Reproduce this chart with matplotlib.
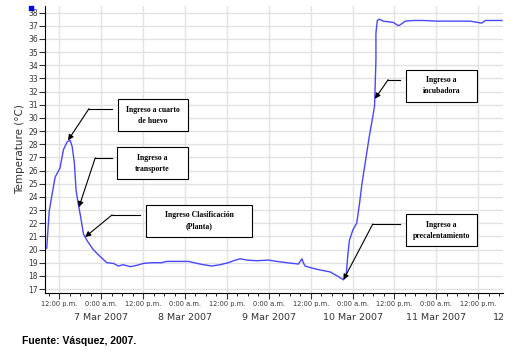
import numpy as np
import matplotlib
matplotlib.use("Agg")
from matplotlib import pyplot as plt
from matplotlib.ticker import MultipleLocator, FixedLocator

# hours since 12:00 p.m. 7 Mar 2007
hours = [-3.6, -2.9, -2.2, -1.2, -0.6, 0.2, 1.2, 2.3, 3.1, 3.7, 4.3, 4.8, 5.4, 6.1,
         6.9, 7.9, 9.7, 11.2, 13.6, 15.5, 16.9, 18.3, 20.3, 22.2, 24.1, 26.5, 29.3,
         30.8, 33.6, 37.0, 39.4, 41.3, 43.7, 46.1, 48.4, 49.9, 51.8, 53.7, 56.6,
         59.9, 62.3, 65.2, 68.5, 69.5, 69.9, 70.4, 72.3, 74.7, 77.6, 79.9, 81.4,
         82.2, 82.6, 83.1, 84.1, 85.2, 86.0, 86.7, 88.8, 89.8, 90.3, 90.7, 90.7,
         91.1, 91.7, 92.8, 95.7, 97.1, 98.1, 99.1, 101.4, 104.3, 108.1, 112.0,
         117.7, 121.0, 122.0, 126.8]
temps = [20.1, 22.9, 24.0, 25.5, 25.8, 26.2, 27.6, 28.2, 28.3, 27.8, 26.6, 24.5, 23.5,
         22.5, 21.2, 20.7, 20.0, 19.6, 19.0, 18.95, 18.75, 18.85, 18.7, 18.8, 18.95,
         19.0, 19.0, 19.1, 19.1, 19.1, 18.95, 18.85, 18.75, 18.85, 19.0, 19.15, 19.3,
         19.2, 19.15, 19.2, 19.1, 19.0, 18.9, 19.3, 19.0, 18.75, 18.6, 18.45, 18.3,
         17.95, 17.7, 18.1, 19.45, 20.7, 21.5, 22.0, 23.5, 25.0, 28.6, 30.1, 30.9,
         34.4, 36.45, 37.4, 37.5, 37.35, 37.25, 37.0, 37.15, 37.35, 37.4, 37.4, 37.35,
         37.35, 37.35, 37.2, 37.4, 37.4]

tick_hours = list(range(0, 121, 12))
tick_labels = ["12:00 p.m." if h % 24 == 0 else "0:00 a.m." for h in tick_hours]
date_hours = [12, 36, 60, 84, 108]
date_labels = ["7 Mar 2007", "8 Mar 2007", "9 Mar 2007", "10 Mar 2007", "11 Mar 2007"]

hours = np.array(hours)
temps = np.array(temps)

fig = plt.figure(figsize=(5.2, 3.53), dpi=100)
ax = fig.add_axes([45 / 520, 60 / 353, 458 / 520, 287 / 353])

ax.plot(hours, temps, color="#4848ff", lw=1.0, zorder=3)

ax.set_xlim(-4.1, 127.1)
ax.set_ylim(16.7, 38.5)
ax.yaxis.set_major_locator(MultipleLocator(1))
ax.xaxis.set_major_locator(FixedLocator(tick_hours))
ax.xaxis.set_minor_locator(MultipleLocator(3))
ax.set_xticklabels(tick_labels)
ax.grid(True, which="major", color="#e2e2e2", lw=1)
ax.set_axisbelow(True)
for s in ["top", "right"]:
    ax.spines[s].set_visible(False)
ax.tick_params(axis="y", labelsize=5.5, length=4, pad=1, colors="#333333")
ax.tick_params(axis="x", which="major", labelsize=4.8, length=4, pad=2, colors="#333333")
ax.tick_params(axis="x", which="minor", length=2)
ax.set_ylabel("Temperature (°C)", fontsize=7.5, color="#333333", labelpad=2)

for h, lab in zip(date_hours, date_labels):
    ax.text(h, -0.085, lab, transform=ax.get_xaxis_transform(), ha="center",
            va="center", fontsize=6.8, color="#333333")
ax.text(126, -0.085, "12", transform=ax.get_xaxis_transform(), ha="center",
        va="center", fontsize=6.8, color="#333333")

# annotations: (text, box centre, knee, line end, target)
peak = np.argmax(temps[:20])
low = np.argmin(temps)
notes = [
    ("Ingreso a cuarto\nde huevo", (26.9, 30.2), (8.5, 30.7), (15.1, 30.7),
     (hours[peak] - 0.6, temps[peak])),
    ("Ingreso a\ntransporte", (26.7, 26.55), (10.3, 26.97), (15.1, 26.97),
     (5.6, np.interp(5.6, hours[:20], temps[:20]))),
    ("Ingreso Clasificación\n(Planta)", (40.0, 22.17), (15.1, 22.63), (23.1, 22.63),
     (7.4, np.interp(7.4, hours[:20], temps[:20]))),
    ("Ingreso a\nincubadora", (109.5, 32.44), (94.2, 32.9), (97.6, 32.9),
     (90.4, 31.45)),
    ("Ingreso a\nprecalentamiento", (109.5, 21.45), (89.8, 21.94), (97.6, 21.94),
     (hours[low], temps[low])),
]
box_w = [70, 71, 106, 71, 71]
for (txt, c, knee, end, tgt), w in zip(notes, box_w):
    ax.plot([knee[0], end[0]], [knee[1], end[1]], color="black", lw=0.8, zorder=4)
    ax.annotate("", xy=tgt, xytext=knee,
                arrowprops=dict(arrowstyle="-|>", color="black", lw=0.8,
                                mutation_scale=8, shrinkA=0, shrinkB=0), zorder=4)
    ax.text(c[0], c[1], txt, ha="center", va="center", fontsize=5.6,
            family="Liberation Serif", weight="bold", linespacing=1.5, zorder=5,
            bbox=dict(boxstyle="square,pad=0", fc="white", ec="black", lw=0.8,
                      alpha=0))
    # box outline
    cx, cy = ax.transData.transform(c)
    x0, y0 = fig.transFigure.inverted().transform((cx - w / 2, cy - 16))
    rect = plt.Rectangle((x0, y0), w / 520, 32 / 353, transform=fig.transFigure,
                         fc="white", ec="black", lw=0.8, zorder=4)
    ax.add_artist(rect)
    rect.set_clip_on(False)

fig.patches.append(plt.Rectangle((29 / 520, 1 - 10 / 353), 4 / 520, 4 / 353,
                                 transform=fig.transFigure, color="blue"))
fig.text(22 / 520, 1 - 341 / 353, "Fuente: Vásquez, 2007.", fontsize=7.5,
         weight="bold", family="Liberation Sans", va="center")

fig.savefig("out.png", dpi=100)
